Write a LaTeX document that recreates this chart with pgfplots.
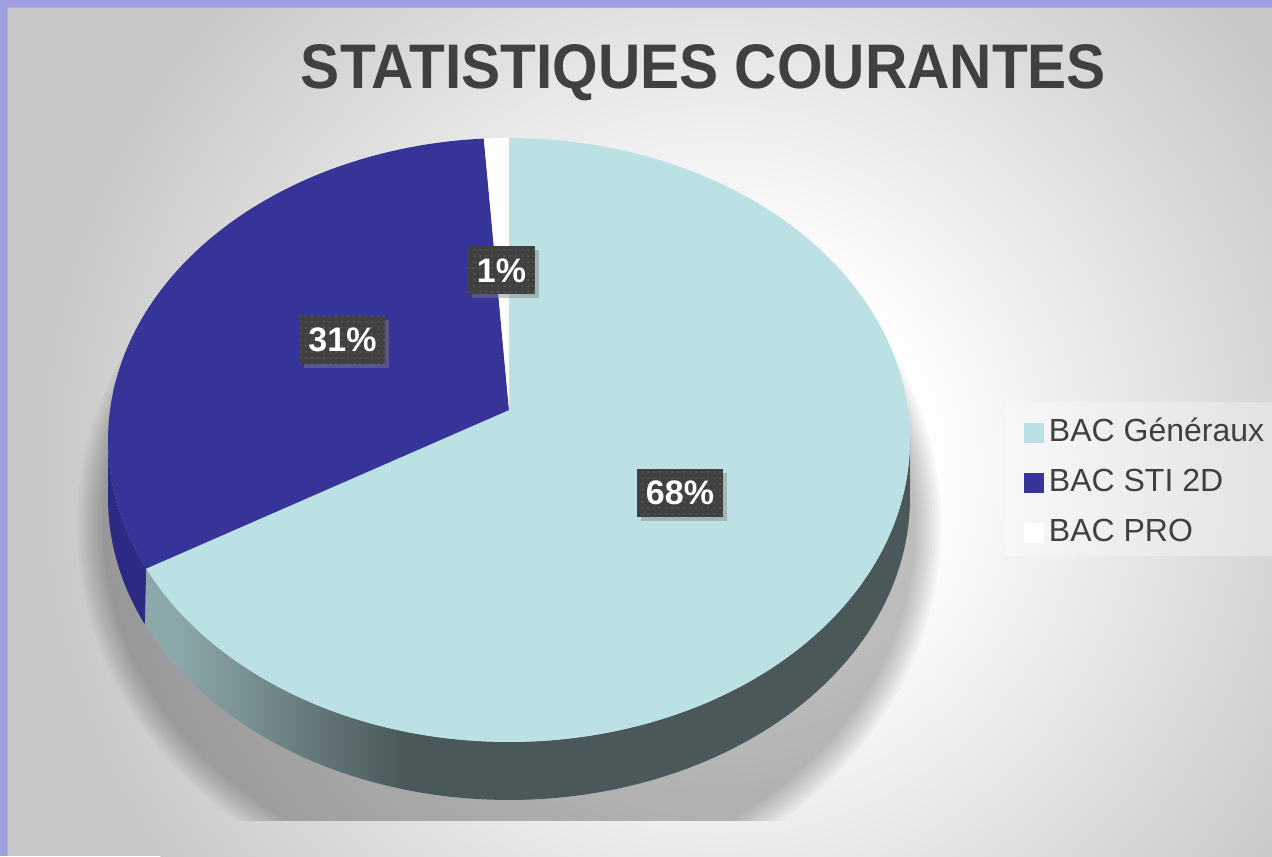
\documentclass[border=0pt]{standalone}
\usepackage{pgfplots}
\pgfplotsset{compat=1.18}
\usepackage{pgfplotstable}
\usepackage{fontspec}
\setmainfont{Liberation Sans}
\usetikzlibrary{shadows,patterns}

\definecolor{gen}{HTML}{BCE1E5}
\definecolor{sti}{HTML}{363399}
\definecolor{stiside}{HTML}{2B2A84}
\definecolor{pro}{HTML}{FFFFFF}
\definecolor{sideL}{HTML}{8DA8AA}
\definecolor{sideD}{HTML}{4A5859}
\definecolor{txt}{HTML}{404040}
\definecolor{framec}{HTML}{9E9EE0}
\definecolor{lbl}{HTML}{404040}
\definecolor{lbldot}{HTML}{5C5C5C}
\definecolor{bgout}{HTML}{C8C8C8}

\pgfdeclarehorizontalshading{sideshade}{100bp}{color(0bp)=(sideL); color(27bp)=(sideL); color(42bp)=(sideD); color(100bp)=(sideD)}
\pgfdeclareradialshading{bgshade}{\pgfpoint{0bp}{0bp}}{color(0bp)=(white); color(7.5bp)=(white); color(25bp)=(bgout); color(50bp)=(bgout)}

\pgfplotstableread{
value name
68 {BAC Généraux}
31 {BAC STI 2D}
1 {BAC PRO}
}\pietable

\begin{document}
\begin{tikzpicture}
\path[use as bounding box] (0,0) rectangle (636pt,428pt);
% background
\begin{scope}
\clip (0,0) rectangle (636pt,428pt);
\fill[bgout] (0,0) rectangle (636pt,428pt);
\shade[shading=bgshade] (360pt,193pt) circle (340pt);
\end{scope}
% soft shadow under the pie (decoration)
\begin{scope}
\clip (0,18pt) rectangle (636pt,428pt);
\foreach \k in {0,...,9}{
  \fill[black, fill opacity=0.028] (254.5pt,165pt) ellipse [x radius={216pt-1.4pt*\k}, y radius={190pt-1.6pt*\k}];
}
\end{scope}
% legend background
\fill[white, opacity=0.3] (502.5pt,150pt) rectangle (636pt,227pt);

\pgfplotstablegetelem{0}{value}\of\pietable \pgfmathsetmacro\va{\pgfplotsretval}
\pgfplotstablegetelem{1}{value}\of\pietable \pgfmathsetmacro\vb{\pgfplotsretval}
\pgfplotstablegetelem{2}{value}\of\pietable \pgfmathsetmacro\vc{\pgfplotsretval}
\pgfmathsetmacro\tot{\va+\vb+\vc}
\pgfmathsetmacro\fa{\va/\tot}
\pgfmathsetmacro\fb{\vb/\tot}
\pgfmathsetmacro\fc{\vc/\tot}
\pgfmathsetmacro\tA{90-360*\fa}
\pgfmathsetmacro\tB{\tA-360*\fb}
\pgfmathsetmacro\tC{\tB-360*\fc}
\pgfmathtruncatemacro\pa{round(100*\fa)}
\pgfmathtruncatemacro\pb{round(100*\fb)}
\pgfmathtruncatemacro\pc{round(100*\fc)}

\begin{axis}[at={(0,0)}, anchor=south west, scale only axis,
  width=636pt, height=428pt, xmin=0, xmax=1272, ymin=0, ymax=856,
  hide axis, clip=false,
  legend style={at={(0.8050,0.5129)}, anchor=north west, draw=none, fill=none,
    inner sep=0pt, row sep=9.5pt, text=txt,
    font=\fontsize{16}{19}\selectfont,
    nodes={inner xsep=2.5pt, inner ysep=0pt, text height=12pt, text depth=3.5pt}},
  legend cell align=left,
  legend image code/.code={\fill[#1] (0pt,-4.9pt) rectangle (9.8pt,4.9pt);},
]
% sides
\addplot[forget plot, draw=none, fill=stiside, domain=0:2, samples=101, variable=\s]
 ({509+401*cos(-180+(\tA+180)*min(\s,2-\s))},{416+302*sin(-180+(\tA+180)*min(\s,2-\s))-58*(\s>1)}) -- cycle;
\addplot[forget plot, draw=none, shade, shading=sideshade, domain=0:2, samples=201, variable=\s]
 ({509+401*cos(\tA+(0-\tA)*min(\s,2-\s))},{416+302*sin(\tA+(0-\tA)*min(\s,2-\s))-58*(\s>1)}) -- cycle;
% top face
\addplot[fill=gen, draw=none, domain=\tA:90, samples=180, variable=\t]
 ({509+401*cos(\t)},{416+302*sin(\t)}) -- (axis cs:509,446) -- cycle;
\addlegendentry{BAC Généraux}
\addplot[fill=sti, draw=none, domain=\tB:\tA, samples=90, variable=\t]
 ({509+401*cos(\t)},{416+302*sin(\t)}) -- (axis cs:509,446) -- cycle;
\addlegendentry{BAC STI 2D}
\addplot[fill=pro, draw=none, domain=\tC:\tB, samples=10, variable=\t]
 ({509+401*cos(\t)},{416+302*sin(\t)}) -- (axis cs:509,446) -- cycle;
\addlegendentry{BAC PRO}
% title
\node[anchor=base, text=txt, xscale=0.93, font=\fontsize{31.5}{38}\selectfont\bfseries] at (axis cs:703.5,767) {STATISTIQUES COURANTES};
% data labels
\tikzset{lblbox/.style={fill=lbl, text=white, font=\fontsize{17}{20}\selectfont\bfseries,
  minimum height=24pt, inner sep=0pt, postaction={pattern=dots, pattern color=lbldot},
  drop shadow={shadow xshift=2pt, shadow yshift=-2pt, opacity=0.45}}}
\node[lblbox, minimum width=43pt] at (axis cs:680,363) {\pa\%};
\node[lblbox, minimum width=42.5pt] at (axis cs:342.5,516) {\pb\%};
\node[lblbox, minimum width=33.5pt] at (axis cs:501.5,585.5) {\pc\%};
\end{axis}
% frame
\fill[framec] (0,0) rectangle (3.5pt,428pt);
\fill[framec] (0,424.5pt) rectangle (636pt,428pt);
\draw[black!30, line width=0.6pt] (3.8pt,0) -- (3.8pt,424.2pt) -- (636pt,424.2pt);
\end{tikzpicture}
\end{document}
